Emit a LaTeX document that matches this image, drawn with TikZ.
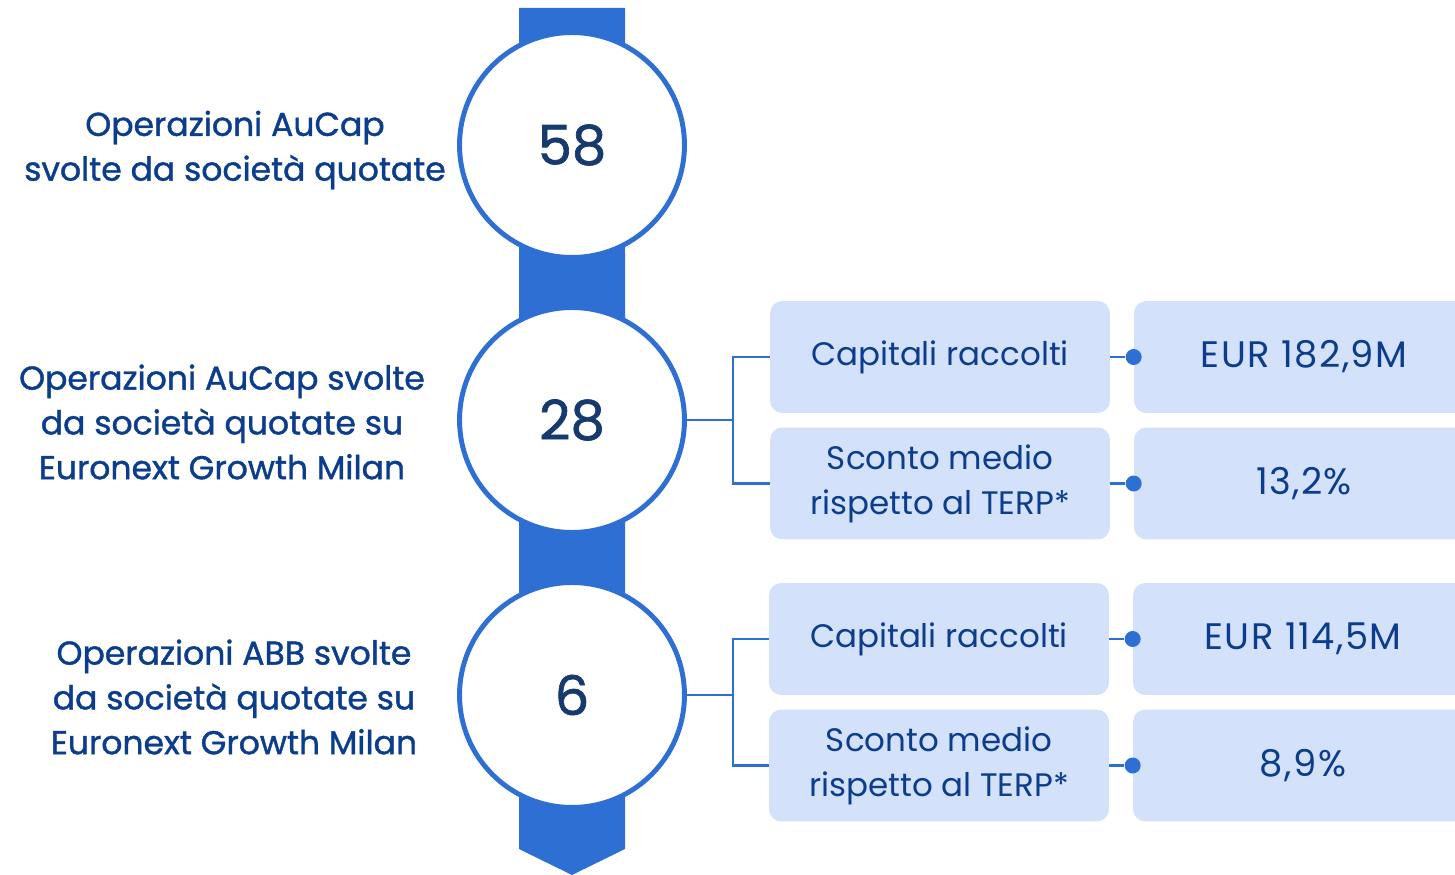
\documentclass[tikz,border=0pt]{standalone}
\usepackage{fontspec}
\setmainfont{Poppins}
\newfontfamily\medfont[FakeBold=1.2]{Poppins}
\newfontfamily\widefont[LetterSpace=4]{Poppins}
\usetikzlibrary{shapes.geometric, arrows}
\definecolor{spineblue}{HTML}{2E6FD4}
\definecolor{boxblue}{HTML}{D3E1FA}
\definecolor{navy}{HTML}{0B3D8C}
\definecolor{deepnavy}{HTML}{173A6E}
\tikzstyle{counter} = [circle, minimum size=4.5cm, inner sep=0pt, draw=spineblue, line width=2.8pt, fill=white, text=deepnavy, font=\medfont\fontsize{31}{36}\selectfont]
\tikzstyle{label} = [align=center, text=navy, font=\medfont\fontsize{18.8}{25.5}\selectfont]
\tikzstyle{infobox} = [rectangle, rounded corners=7pt, minimum width=6.8cm, minimum height=2.24cm, align=center, fill=boxblue, text=navy, font=\fontsize{18.5}{25.5}\selectfont]
\tikzstyle{valuebox} = [infobox, font=\widefont\fontsize{21}{25.5}\selectfont]
\tikzstyle{dot} = [circle, fill=spineblue, minimum size=0.32cm, inner sep=0pt]
\tikzstyle{link} = [draw=spineblue, line width=1.7pt]

\begin{document}
\begin{tikzpicture}[x=0.02cm, y=-0.02cm]
\useasboundingbox (0,0) rectangle (1455,875);

% spine
\fill[spineblue] (519,8) -- (625,8) -- (625,849) -- (572,875) -- (519,849) -- cycle;

\node (c1) [counter] at (572,145) {58};
\node (c2) [counter] at (572,420) {28};
\node (c3) [counter] at (572,695) {6};

\node (l1) [label] at (235,150) {Operazioni AuCap\\svolte da società quotate};
\node (l2) [label] at (222,422) {Operazioni AuCap svolte\\da società quotate su\\Euronext Growth Milan};
\node (l3) [label] at (234,697) {Operazioni ABB svolte\\da società quotate su\\Euronext Growth Milan};

\node (b1) [infobox] at (940,357) {Capitali raccolti};
\node (b2) [infobox] at (940,483.5) {Sconto medio\\rispetto al TERP*};
\node (b3) [infobox] at (939,639) {Capitali raccolti};
\node (b4) [infobox] at (939,765.5) {Sconto medio\\rispetto al TERP*};

\node (v1) [valuebox] at (1304,357) {EUR 182,9M};
\node (v2) [valuebox] at (1304,483.5) {13,2\%};
\node (v3) [valuebox] at (1303,639) {EUR 114,5M};
\node (v4) [valuebox] at (1303,765.5) {8,9\%};

\node (j2)[coordinate] at (733,420) {};
\node (j3)[coordinate] at (733,695) {};

\draw [link] (c2.east) -- (j2);
\draw [link] (b1.west) -| (j2) |- (b2.west);
\draw [link] (c3.east) -- (j3);
\draw [link] (b3.west) -| (j3) |- (b4.west);

\node (d1) [dot] at (v1.west) {};
\node (d2) [dot] at (v2.west) {};
\node (d3) [dot] at (v3.west) {};
\node (d4) [dot] at (v4.west) {};
\draw [link] (b1) -- (d1);
\draw [link] (b2) -- (d2);
\draw [link] (b3) -- (d3);
\draw [link] (b4) -- (d4);

\end{tikzpicture}
\end{document}
